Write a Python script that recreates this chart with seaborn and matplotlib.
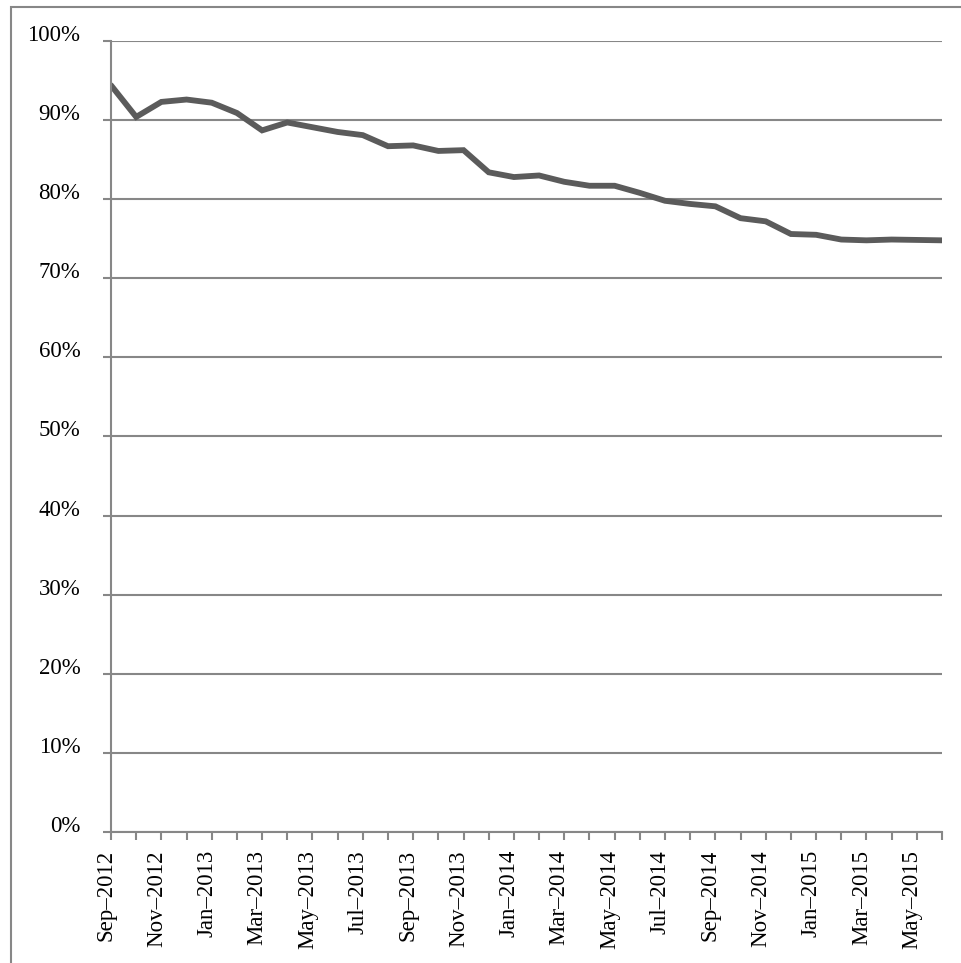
import numpy as np
import pandas as pd
import matplotlib
matplotlib.use("Agg")
import matplotlib.pyplot as plt
import matplotlib.transforms as mtransforms
from matplotlib.patches import Rectangle
import seaborn as sns

# monthly share, Sep-2012 .. Jun-2015
months = ["Sep-2012", "Oct-2012", "Nov-2012", "Dec-2012", "Jan-2013", "Feb-2013",
          "Mar-2013", "Apr-2013", "May-2013", "Jun-2013", "Jul-2013", "Aug-2013",
          "Sep-2013", "Oct-2013", "Nov-2013", "Dec-2013", "Jan-2014", "Feb-2014",
          "Mar-2014", "Apr-2014", "May-2014", "Jun-2014", "Jul-2014", "Aug-2014",
          "Sep-2014", "Oct-2014", "Nov-2014", "Dec-2014", "Jan-2015", "Feb-2015",
          "Mar-2015", "Apr-2015", "May-2015", "Jun-2015"]
share = [94.4, 90.4, 92.3, 92.6, 92.2, 90.9, 88.7, 89.7, 89.1, 88.5,
         88.1, 86.7, 86.8, 86.1, 86.2, 83.4, 82.8, 83.0, 82.2, 81.7,
         81.7, 80.8, 79.8, 79.4, 79.1, 77.6, 77.2, 75.6, 75.5, 74.9,
         74.8, 74.9, 74.85, 74.8]
y_ticks = list(range(0, 101, 10))
y_labels = [f"{v}%" for v in y_ticks]

df = pd.DataFrame({"idx": np.arange(len(months)), "month": months, "share": share})

sns.set_theme(style="white")
plt.rcParams['font.family'] = ['Liberation Serif', 'DejaVu Serif']

W, H = 961, 963
fig = plt.figure(figsize=(W / 100, H / 100), dpi=100)
ax = fig.add_axes([111 / W, 1 - 832 / H, (942 - 111) / W, (832 - 41) / H])

grey = "#878787"

# outer frame
fig.patches.append(Rectangle((11 / W, -0.05), 1.2, 1 - 7 / H + 0.05, transform=fig.transFigure,
                             fill=False, edgecolor=grey, linewidth=1.5, zorder=0))

sns.lineplot(data=df, x="idx", y="share", color="#5b5b5b", linewidth=4.2, ax=ax,
             solid_joinstyle="miter")

ax.set_xlim(0, len(months) - 1)
ax.set_ylim(0, 100)
ax.set_yticks(y_ticks)
ax.set_yticklabels(y_labels, fontsize=16.5)
ax.set_xticks(df["idx"])
ax.set_xticklabels([m.replace("-", "–") if i % 2 == 0 else "" for i, m in enumerate(months)],
                   rotation=90, fontsize=16.5)
ax.set_xlabel("")
ax.set_ylabel("")

ax.grid(axis="y", color=grey, linewidth=1.5)
ax.grid(axis="x", visible=False)
ax.set_axisbelow(True)
for s in ["top", "right"]:
    ax.spines[s].set_visible(False)
for s in ["left", "bottom"]:
    ax.spines[s].set_color(grey)
    ax.spines[s].set_linewidth(1.5)

ax.tick_params(axis="y", left=True, direction="out", length=6, width=1.5, color=grey,
               pad=16, labelcolor="black")
ax.tick_params(axis="x", bottom=True, direction="out", length=6, width=1.5, color=grey,
               pad=7, labelcolor="black")

# Excel-like label placement
for lab in ax.get_yticklabels():
    lab.set_va("baseline")
off = mtransforms.ScaledTranslation(-5 / 100, 0, fig.dpi_scale_trans)
for lab in ax.get_xticklabels():
    lab.set_transform(lab.get_transform() + off)

fig.savefig("out.png", dpi=100, facecolor="white")
